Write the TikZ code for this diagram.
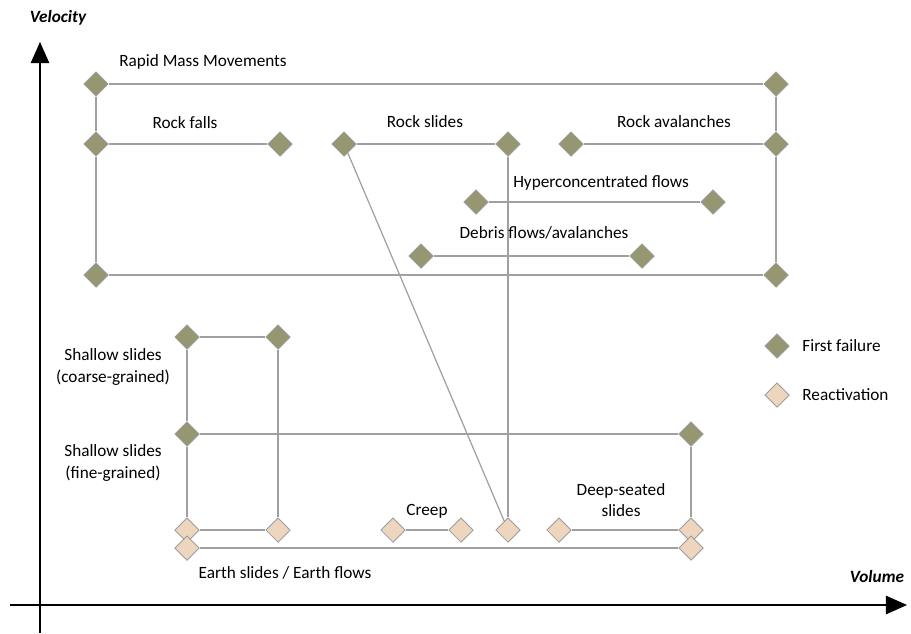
\documentclass[tikz,border=0pt]{standalone}
\usepackage{fontspec}
\setmainfont{Carlito}
\usetikzlibrary{positioning,shapes.geometric,arrows.meta,backgrounds}
\definecolor{firstolive}{HTML}{969671}
\definecolor{reactpeach}{HTML}{EDD6BD}
\definecolor{linkgray}{HTML}{A0A0A0}
\definecolor{rimgray}{HTML}{9C9C9C}

\begin{document}
\begin{tikzpicture}[
  x=0.02cm, y=-0.02cm,
  font=\fontsize{9.8}{12}\selectfont,
  first/.style={
    diamond, draw=rimgray, fill=firstolive,
    line width=0.5pt, minimum size=14pt, inner sep=0pt
  },
  react/.style={first, fill=reactpeach},
  link/.style={draw=linkgray, line width=0.7pt},
  axis/.style={-{Triangle[length=12pt,width=10.5pt]}, line width=0.7pt},
  lbl/.style={align=center, inner sep=0pt},
]
\useasboundingbox (0,0) rectangle (911,633);

% Axes with their titles.
\coordinate (vbot) at (40,633);
\coordinate (vtop) at (40,42);
\coordinate (hleft) at (10,605);
\coordinate (hright) at (907,605);
\draw[axis] (vbot) -- (vtop);
\draw[axis] (hleft) -- (hright);
\node[lbl, font=\fontsize{9.8}{12}\selectfont\bfseries\itshape] (velocity) at (58,18) {Velocity};
\node[lbl, font=\fontsize{9.8}{12}\selectfont\bfseries\itshape] (volume) at (877,577) {Volume};

% Rapid mass movements (first failure).
\node[first] (rapidL) at (96,84) {};
\node[first] (rapidR) at (776,84) {};
\node[first] (fallsL) at (96,144) {};
\node[first] (fallsR) at (280,144) {};
\node[first] (rslideL) at (344,144) {};
\node[first] (rslideR) at (508,144) {};
\node[first] (ravaL) at (571,144) {};
\node[first] (ravaR) at (776,144) {};
\node[first] (hyperL) at (476,202) {};
\node[first] (hyperR) at (713,202) {};
\node[first] (debrisL) at (421,256) {};
\node[first] (debrisR) at (642,256) {};
\node[first] (rapidBL) at (96,275) {};
\node[first] (rapidBR) at (776,275) {};

% Slides (first failure and reactivation).
\node[first] (coarseL) at (187,337) {};
\node[first] (coarseR) at (278,337) {};
\node[first] (fineL) at (187,434) {};
\node[first] (fineR) at (691,434) {};
\node[react] (coarseBL) at (187,530) {};
\node[react] (coarseBR) at (278,530) {};
\node[react] (creepL) at (393,530) {};
\node[react] (creepR) at (461,530) {};
\node[react] (rslideB) at (508,530) {};
\node[react] (deepL) at (559,530) {};
\node[react] (deepR) at (691,530) {};
\node[react] (earthL) at (187,548) {};
\node[react] (earthR) at (691,548) {};

% Connectors behind the diamonds.
\begin{scope}[on background layer]
\draw[link] (rapidL) -- (rapidR);
\draw[link] (rapidL) -- (fallsL) -- (rapidBL);
\draw[link] (rapidR) -- (ravaR) -- (rapidBR);
\draw[link] (rapidBL) -- (rapidBR);
\draw[link] (fallsL) -- (fallsR);
\draw[link] (rslideL) -- (rslideR);
\draw[link] (ravaL) -- (ravaR);
\draw[link] (hyperL) -- (hyperR);
\draw[link] (debrisL) -- (debrisR);
\draw[link] (rslideL) -- (rslideB);
\draw[link] (rslideR) -- (rslideB);
\draw[link] (coarseL) -- (coarseR);
\draw[link] (coarseL) -- (fineL) -- (coarseBL);
\draw[link] (coarseR) -- (coarseBR);
\draw[link] (coarseBL) -- (coarseBR);
\draw[link] (fineL) -- (fineR) -- (deepR);
\draw[link] (creepL) -- (creepR);
\draw[link] (deepL) -- (deepR);
\draw[link] (earthL) -- (earthR);
\end{scope}

% Class labels.
\node[lbl] (rapidTxt) at (203,62) {Rapid Mass Movements};
\node[lbl] (fallsTxt) at (185,123) {Rock falls};
\node[lbl] (rslideTxt) at (425,122) {Rock slides};
\node[lbl] (ravaTxt) at (674,122) {Rock avalanches};
\node[lbl] (hyperTxt) at (601,183) {Hyperconcentrated flows};
\node[lbl] (debrisTxt) at (544,233) {Debris flows/avalanches};
\node[lbl] (coarseTxt) at (113,367) {Shallow slides\\(coarse-grained)};
\node[lbl] (fineTxt) at (113,463) {Shallow slides\\(fine-grained)};
\node[lbl] (creepTxt) at (427,511) {Creep};
\node[lbl] (deepTxt) at (621,500) {Deep-seated\\slides};
\node[lbl] (earthTxt) at (285,573) {Earth slides / Earth flows};

% Legend.
\node[first] (legFirst) at (777,346) {};
\node[lbl, right=7pt of legFirst] (legFirstTxt) {First failure};
\node[react] (legReact) at (777,395) {};
\node[lbl, right=7pt of legReact] (legReactTxt) {Reactivation};

\end{tikzpicture}
\end{document}
